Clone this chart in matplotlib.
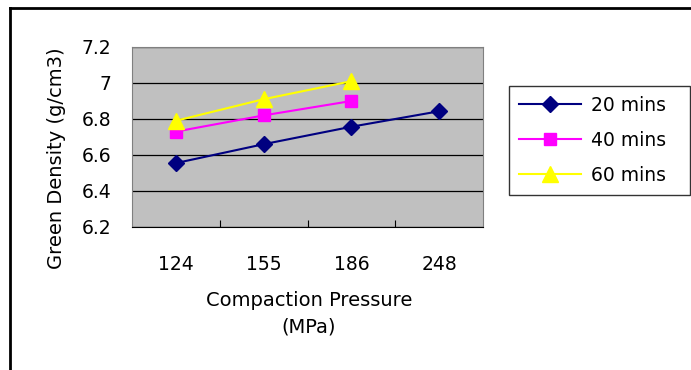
import matplotlib
matplotlib.use("Agg")
import matplotlib.pyplot as plt
from matplotlib.lines import Line2D

# data
pressures = ["124", "155", "186", "248"]
d20 = [6.555, 6.66, 6.757, 6.843]
d40 = [6.73, 6.82, 6.90]
d60 = [6.79, 6.91, 7.01]

fig = plt.figure(figsize=(6.91, 3.70), dpi=100)
ax = fig.add_axes([132/691, 1-227/370, 351/691, 180/370])
ax.set_facecolor("#C0C0C0")

xs = list(range(len(pressures)))
ax.plot(xs, d20, "-", color="#000080", lw=1.5, marker="D", ms=8, label="20 mins")
ax.plot(xs[:3], d40, "-", color="#FF00FF", lw=1.5, marker="s", ms=9, label="40 mins")
ax.plot(xs[:3], d60, "-", color="#FFFF00", lw=1.5, marker="^", ms=11, label="60 mins")

ax.set_xlim(-0.5, 3.5)
ax.set_ylim(6.2, 7.2)
ax.set_yticks([6.2, 6.4, 6.6, 6.8, 7.0, 7.2])
ax.set_yticklabels(["6.2", "6.4", "6.6", "6.8", "7", "7.2"])
ax.yaxis.grid(True, color="black", lw=0.9)
ax.set_axisbelow(True)
ax.tick_params(axis="y", length=0, pad=15, labelsize=13.5)

# category ticks between bins, labels at bin centers
ax.set_xticks([0.5, 1.5, 2.5])
ax.set_xticklabels([])
ax.set_xticks(xs, minor=True)
ax.set_xticklabels(pressures, minor=True)
ax.tick_params(axis="x", which="major", direction="in", length=5, color="black")
ax.tick_params(axis="x", which="minor", length=0, pad=20, labelsize=13.5)

for s in ["top", "right", "left"]:
    ax.spines[s].set_color("#808080")
ax.spines["bottom"].set_color("black")

fig.text(57/691, 1-158/370, "Green Density (g/cm3)", rotation=90,
         ha="center", va="center", fontsize=14)
fig.text(309/691, 1-300/370, "Compaction Pressure", ha="center", va="center", fontsize=14)
fig.text(309/691, 1-327/370, "(MPa)", ha="center", va="center", fontsize=14)

leg = fig.legend(loc="upper left", bbox_to_anchor=(509/691, 1-86/370, 181/691, 0.001),
                 mode="expand", fontsize=13.5, frameon=True, fancybox=False,
                 edgecolor="black", handlelength=3.3, handletextpad=0.5,
                 borderpad=0.55, labelspacing=0.85, borderaxespad=0)
leg.get_frame().set_linewidth(1.0)

# outer chart border
fig.add_artist(Line2D([10/691, 1], [1-8/370, 1-8/370], color="black", lw=2))
fig.add_artist(Line2D([10/691, 10/691], [0, 1-8/370], color="black", lw=2))

fig.savefig("out.png", dpi=100)
